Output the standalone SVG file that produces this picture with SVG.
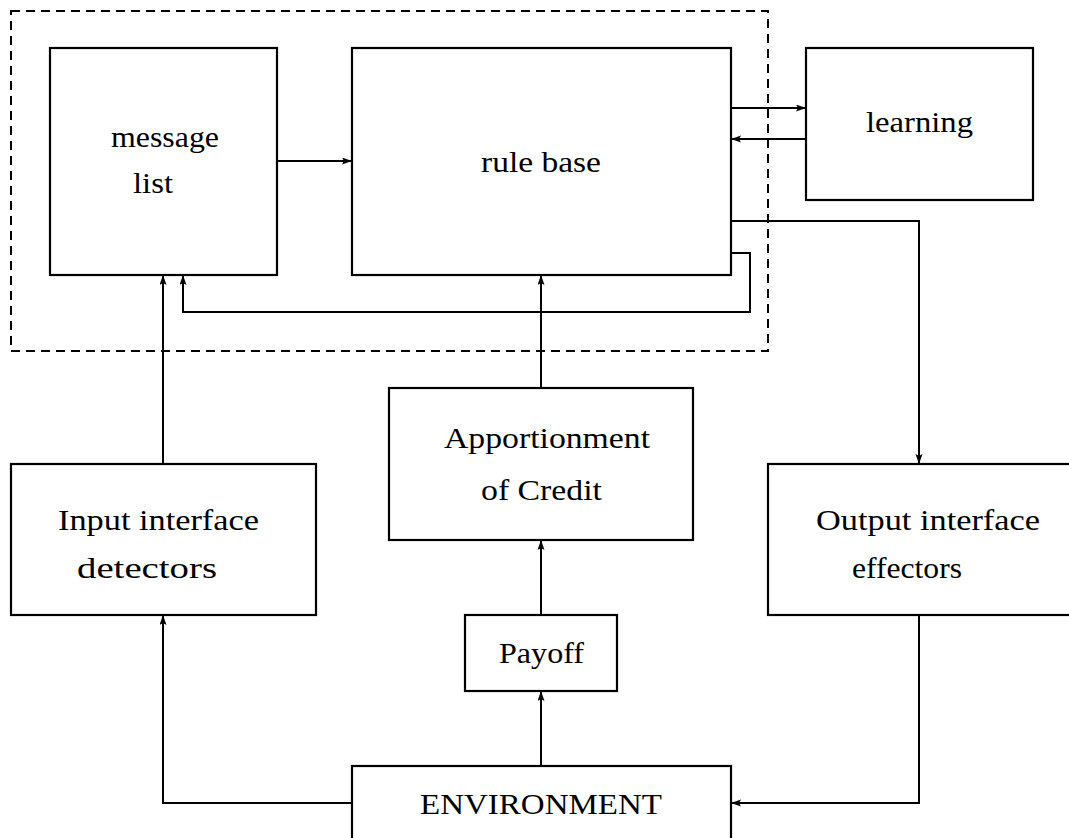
<svg xmlns="http://www.w3.org/2000/svg" width="1069" height="838" viewBox="0 0 1069 838" font-family="'Liberation Serif', 'DejaVu Serif', serif">
<style>
.box{fill:none;stroke:#000;stroke-width:2.2}
.c{fill:none;stroke:#000;stroke-width:2}
text{font-family:'Liberation Serif','DejaVu Serif',serif;font-size:30px;fill:#000}
</style>
<defs>
<marker id="ah" markerUnits="userSpaceOnUse" markerWidth="12" markerHeight="8" refX="10" refY="3.5" orient="auto">
<path d="M0,0 L10,3.5 L0,7 L2,3.5 Z" fill="#000"/>
</marker>
</defs>
<rect width="1069" height="838" fill="#fff"/>
<g id="system-boundary">
<rect x="11" y="11" width="757" height="340" fill="none" stroke="#000" stroke-width="2" stroke-dasharray="9,6"/>
</g>
<g id="message-list">
<rect class="box" x="50" y="48" width="227" height="227"/>
<text x="111" y="147" textLength="108" lengthAdjust="spacingAndGlyphs">message</text>
<text x="133" y="193" textLength="40" lengthAdjust="spacingAndGlyphs">list</text>
</g>
<g id="rule-base">
<rect class="box" x="352" y="48" width="379" height="227"/>
<text x="481" y="172" textLength="120" lengthAdjust="spacingAndGlyphs">rule base</text>
</g>
<g id="learning">
<rect class="box" x="806" y="48" width="227" height="152"/>
<text x="866" y="132" textLength="107" lengthAdjust="spacingAndGlyphs">learning</text>
</g>
<g id="input-interface">
<rect class="box" x="11" y="464" width="305" height="151"/>
<text x="58" y="530" textLength="201" lengthAdjust="spacingAndGlyphs">Input interface</text>
<text x="77" y="578" textLength="140" lengthAdjust="spacingAndGlyphs">detectors</text>
</g>
<g id="apportionment">
<rect class="box" x="389" y="388" width="304" height="152"/>
<text x="444" y="448" textLength="206" lengthAdjust="spacingAndGlyphs">Apportionment</text>
<text x="481" y="500" textLength="121" lengthAdjust="spacingAndGlyphs">of Credit</text>
</g>
<g id="output-interface">
<rect class="box" x="768" y="464" width="310" height="151"/>
<text x="816" y="530" textLength="224" lengthAdjust="spacingAndGlyphs">Output interface</text>
<text x="852" y="578" textLength="110" lengthAdjust="spacingAndGlyphs">effectors</text>
</g>
<g id="payoff">
<rect class="box" x="465" y="615" width="152" height="76"/>
<text x="499" y="663" textLength="85" lengthAdjust="spacingAndGlyphs">Payoff</text>
</g>
<g id="environment">
<rect class="box" x="352" y="766" width="379" height="80"/>
<text x="420" y="814" textLength="242" lengthAdjust="spacingAndGlyphs">ENVIRONMENT</text>
</g>
<g id="connectors">
<line class="c" x1="277" y1="161" x2="352" y2="161" marker-end="url(#ah)"/>
<line class="c" x1="731" y1="108" x2="806" y2="108" marker-end="url(#ah)"/>
<line class="c" x1="806" y1="139" x2="731" y2="139" marker-end="url(#ah)"/>
<polyline class="c" points="731,221 919,221 919,464" marker-end="url(#ah)"/>
<polyline class="c" points="731,253 750,253 750,312 183,312 183,275" marker-end="url(#ah)"/>
<line class="c" x1="163" y1="464" x2="163" y2="275" marker-end="url(#ah)"/>
<line class="c" x1="541" y1="388" x2="541" y2="275" marker-end="url(#ah)"/>
<line class="c" x1="541" y1="615" x2="541" y2="540" marker-end="url(#ah)"/>
<line class="c" x1="541" y1="766" x2="541" y2="691" marker-end="url(#ah)"/>
<polyline class="c" points="352,803 163,803 163,615" marker-end="url(#ah)"/>
<polyline class="c" points="919,615 919,803 731,803" marker-end="url(#ah)"/>
</g>
</svg>
